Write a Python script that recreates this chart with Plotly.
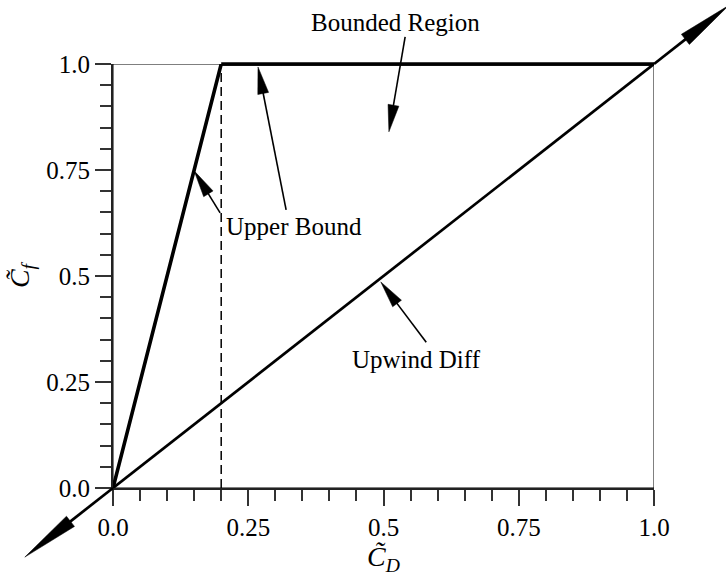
import math
import plotly.graph_objects as go

# ---------------- data ----------------
upper_x = [0.0, 0.2, 1.0]
upper_y = [0.0, 1.0, 1.0]
upwind_x = [0.0, 1.0]
upwind_y = [0.0, 1.0]
upwind_ext_lo = -0.163      # lower-left arrow tip of the upwind line (x = y)
upwind_ext_hi = 1.138       # upper-right arrow tip of the upwind line (x = y)
dash_x = [0.2, 0.2]
dash_y = [0.0, 1.0]

tick_vals = [0.0, 0.25, 0.5, 0.75, 1.0]
tick_text = ["0.0", "0.25", "0.5", "0.75", "1.0"]

label_text = ["Bounded Region", "Upper Bound", "Upwind Diff"]
label_x = [0.523, 0.334, 0.561]
label_y = [1.099, 0.616, 0.302]

# annotation arrows: tail -> tip (data coordinates)
arrow_tail_x = [0.540, 0.320, 0.198, 0.579]
arrow_tail_y = [1.064, 0.656, 0.649, 0.344]
arrow_tip_x = [0.510, 0.268, 0.150, 0.495]
arrow_tip_y = [0.840, 0.993, 0.748, 0.486]

# ---------------- layout constants ----------------
W, H = 726, 577
ML, MR, MT, MB = 113, 72, 64, 89
PW, PH = W - ML - MR, H - MT - MB
XR = [0.0, 1.0]
YR = [0.0, 1.0]
FONT = "Liberation Serif"


def d2px(x, y):
    """data -> pixel inside plot area (y downward)"""
    px = (x - XR[0]) / (XR[1] - XR[0]) * PW
    py = (1 - (y - YR[0]) / (YR[1] - YR[0])) * PH
    return px, py


def px2paper(px, py):
    return px / PW, 1 - py / PH


def d2paper(x, y):
    return px2paper(*d2px(x, y))


shapes = []


def arrow(tail, tip, head_len, head_w, lw):
    tx, ty = d2px(*tail)
    hx, hy = d2px(*tip)
    dx, dy = tx - hx, ty - hy
    n = math.hypot(dx, dy)
    ux, uy = dx / n, dy / n
    bx, by = hx + ux * head_len, hy + uy * head_len
    nx, ny = -uy, ux
    c1 = px2paper(bx + nx * head_w / 2, by + ny * head_w / 2)
    c2 = px2paper(bx - nx * head_w / 2, by - ny * head_w / 2)
    tp = px2paper(hx, hy)
    t0 = px2paper(tx, ty)
    b0 = px2paper(bx - ux * 2, by - uy * 2)
    shapes.append(dict(type="line", xref="paper", yref="paper",
                       x0=t0[0], y0=t0[1], x1=b0[0], y1=b0[1],
                       line=dict(color="black", width=lw)))
    shapes.append(dict(type="path", xref="paper", yref="paper",
                       path=f"M{tp[0]},{tp[1]} L{c1[0]},{c1[1]} L{c2[0]},{c2[1]} Z",
                       fillcolor="black", line=dict(color="black", width=0.5)))


# frame (top and right thin lines)
shapes.append(dict(type="rect", xref="x", yref="y", x0=0, y0=0, x1=1, y1=1,
                   line=dict(color="black", width=1), layer="below"))

# un-clipped overlay of the flat part of the upper bound (the trace is clipped at the top edge)
p0 = d2paper(upper_x[1], upper_y[1])
p1 = d2paper(upper_x[2], upper_y[2])
shapes.append(dict(type="line", xref="paper", yref="paper",
                   x0=p0[0], y0=p0[1], x1=p1[0], y1=p1[1],
                   line=dict(color="black", width=3.5)))

# upwind line extensions with arrowheads
arrow((upwind_x[0], upwind_y[0]), (upwind_ext_lo, upwind_ext_lo), 58, 13, 2.7)
arrow((upwind_x[-1], upwind_y[-1]), (upwind_ext_hi, upwind_ext_hi), 55, 13, 2.7)

for i in range(len(arrow_tail_x)):
    arrow((arrow_tail_x[i], arrow_tail_y[i]), (arrow_tip_x[i], arrow_tip_y[i]), 27, 11, 1.6)

fig = go.Figure()
fig.add_trace(go.Scatter(x=dash_x, y=dash_y, mode="lines",
                         line=dict(color="black", width=1.5, dash="9px,5px"),
                         showlegend=False, hoverinfo="skip"))
fig.add_trace(go.Scatter(x=upwind_x, y=upwind_y, mode="lines",
                         line=dict(color="black", width=2.7),
                         showlegend=False, hoverinfo="skip"))
fig.add_trace(go.Scatter(x=upper_x, y=upper_y, mode="lines",
                         line=dict(color="black", width=3.6),
                         showlegend=False, hoverinfo="skip"))

annotations = []
for t, x, y in zip(label_text, label_x, label_y):
    px_, py_ = d2paper(x, y)
    annotations.append(dict(text=t, x=px_, y=py_, xref="paper", yref="paper", showarrow=False,
                            font=dict(family=FONT, size=25, color="black"),
                            xanchor="center", yanchor="middle"))

axis_common = dict(
    tickvals=tick_vals, ticktext=tick_text,
    ticks="outside", ticklen=16, tickwidth=1.5, tickcolor="#333",
    showline=True, linewidth=2, linecolor="#222",
    showgrid=False, zeroline=False, automargin=False,
    tickfont=dict(family=FONT, size=25, color="black"),
    minor=dict(dtick=0.05, tick0=0, ticks="outside", ticklen=11,
               tickwidth=1.5, tickcolor="#333", showgrid=False),
    fixedrange=True,
)

fig.update_layout(
    template="none",
    width=W, height=H,
    margin=dict(l=ML, r=MR, t=MT, b=MB, pad=0),
    paper_bgcolor="white", plot_bgcolor="white",
    showlegend=False,
    font=dict(family=FONT, color="black"),
    xaxis=dict(range=XR, **axis_common,
               title=dict(text="<i>C̃</i><sub><i>D</i></sub>", standoff=2,
                          font=dict(family=FONT, size=28, color="black"))),
    yaxis=dict(range=YR, **axis_common,
               title=dict(text="<i>C̃</i><sub><i>f</i></sub>", standoff=8,
                          font=dict(family=FONT, size=28, color="black"))),
    shapes=shapes,
    annotations=annotations,
)

fig.write_html("out.html")
